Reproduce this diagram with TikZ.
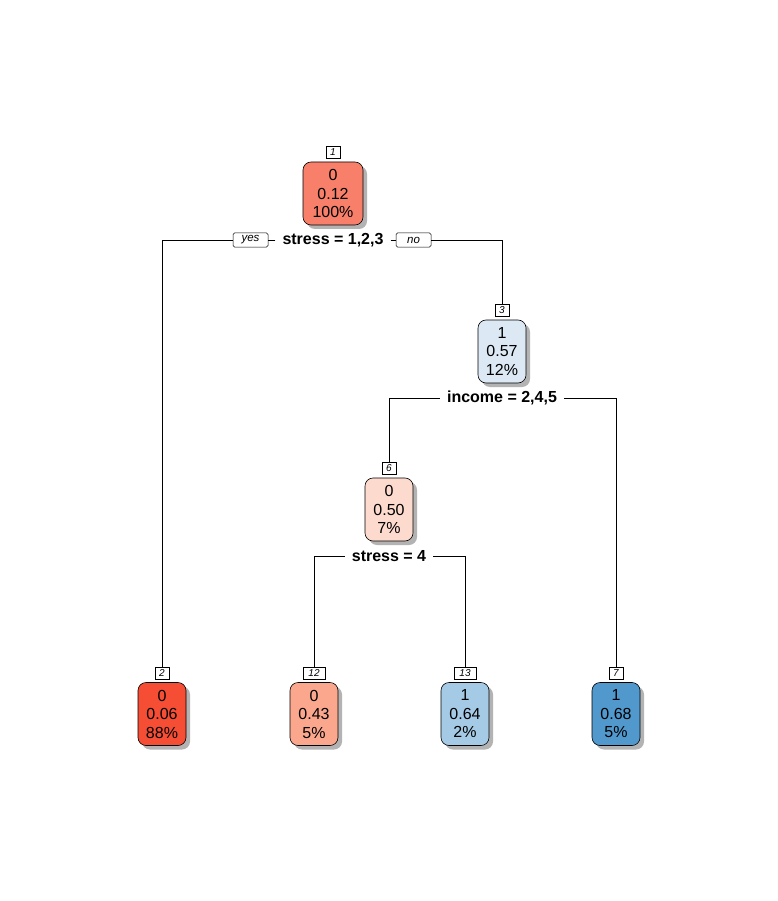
\documentclass[tikz,border=0pt]{standalone}
\usepackage{fontspec}
\setmainfont{Liberation Sans}
\usetikzlibrary{shadows}
\definecolor{cA}{HTML}{F8806A}
\definecolor{cB}{HTML}{F64D35}
\definecolor{cC}{HTML}{DCE9F5}
\definecolor{cD}{HTML}{FDDACE}
\definecolor{cE}{HTML}{FBA78D}
\definecolor{cF}{HTML}{A5CAE5}
\definecolor{cG}{HTML}{5198CD}
\tikzset{
  leaf/.style={draw=black, line width=0.6pt, rounded corners=8pt, minimum width=48pt, minimum height=63pt,
    inner xsep=6pt, inner ysep=0pt, align=center, font=\fontsize{16}{18.5}\selectfont,
    drop shadow={shadow xshift=4pt, shadow yshift=-4pt, fill=black!40, opacity=0.75}},
  numlab/.style={draw=black, fill=white, line width=0.5pt, minimum height=12pt, minimum width=14pt, inner xsep=2pt, inner ysep=0pt,
    font=\fontsize{10}{10}\itshape, anchor=south},
  split/.style={font=\fontsize{16}{17}\bfseries\selectfont, inner xsep=7pt, inner ysep=2pt},
  yn/.style={draw=black, fill=white, line width=0.5pt, rounded corners=1.5pt, minimum height=14pt, minimum width=35pt, inner sep=1pt,
    font=\fontsize{11.5}{12}\itshape},
  conn/.style={draw=black, line width=0.6pt}
}
\begin{document}
\begin{tikzpicture}[x=1pt,y=-1pt]
\useasboundingbox (0,0) rectangle (778,901);
% boxes
\node[leaf, fill=cA, minimum width=60pt] (n1) at (333,193.5) {0\\0.12\\100\%};
\node[leaf, fill=cC] (n3) at (502,351.5) {1\\0.57\\12\%};
\node[leaf, fill=cD] (n6) at (389,509.5) {0\\0.50\\7\%};
\node[leaf, fill=cB] (n2) at (162,714) {0\\0.06\\88\%};
\node[leaf, fill=cE] (n12) at (314,714) {0\\0.43\\5\%};
\node[leaf, fill=cF] (n13) at (465,714) {1\\0.64\\2\%};
\node[leaf, fill=cG] (n7) at (616,714) {1\\0.68\\5\%};
% number labels
\node[numlab] (l1) at ([yshift=3pt]n1.north) {1};
\node[numlab] (l3) at ([yshift=3pt]n3.north) {3};
\node[numlab] (l6) at ([yshift=3pt]n6.north) {6};
\node[numlab] (l2) at ([yshift=3pt]n2.north) {2};
\node[numlab, minimum width=22pt] (l12) at ([yshift=3pt]n12.north) {12};
\node[numlab, minimum width=22pt] (l13) at ([yshift=3pt]n13.north) {13};
\node[numlab] (l7) at ([yshift=3pt]n7.north) {7};
% split labels
\node[split] (s1) at (333,240) {stress = 1,2,3};
\node[split] (s3) at (502,398) {income = 2,4,5};
\node[split] (s6) at (389,556) {stress = 4};
\node[yn] (yes) at (250.5,240) {yes};
\node[yn] (no) at (413.5,240) {no};
% connectors
\draw[conn] (s1.west) -- (yes.east);
\draw[conn] (s1.east) -- (no.west);
\draw[conn] (yes.west) -| (l2.north);
\draw[conn] (no.east) -| (l3.north);
\draw[conn] (s3.west) -| (l6.north);
\draw[conn] (s3.east) -| (l7.north);
\draw[conn] (s6.west) -| (l12.north);
\draw[conn] (s6.east) -| (l13.north);
\end{tikzpicture}
\end{document}
